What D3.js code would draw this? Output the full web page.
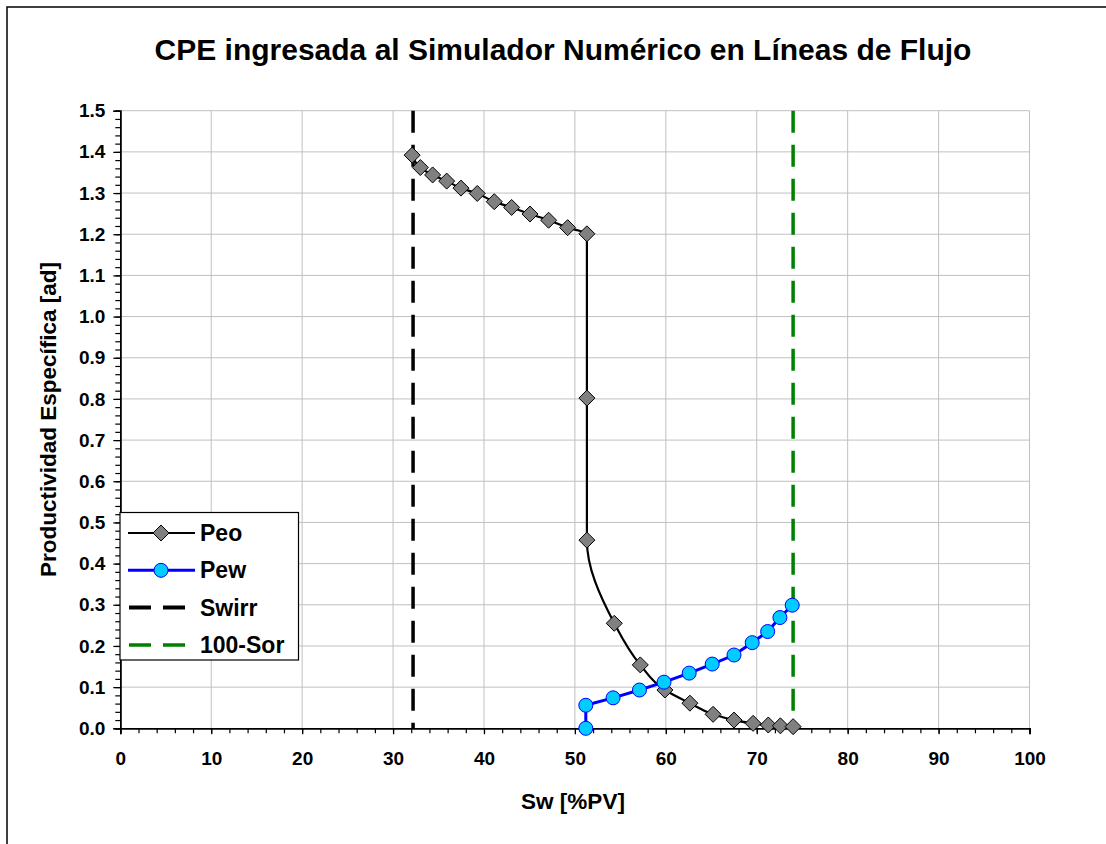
<!DOCTYPE html>
<html><head><meta charset="utf-8">
<script src="https://cdn.jsdelivr.net/npm/d3@7"></script>
<style>
html,body{margin:0;padding:0;background:#fff;}
svg{display:block;font-family:"Liberation Sans",Arial,sans-serif;}
</style></head>
<body>
<svg id="chart" width="1106" height="844"></svg>
<script>
// ---- data ----
const title = "CPE ingresada al Simulador Numérico en Líneas de Flujo";
const xLabel = "Sw [%PV]";
const yLabel = "Productividad Específica [ad]";
const xTicks = [0,10,20,30,40,50,60,70,80,90,100];
const yTicks = [0,0.1,0.2,0.3,0.4,0.5,0.6,0.7,0.8,0.9,1.0,1.1,1.2,1.3,1.4,1.5];

const peoSw = [32.1,33.0,34.35,35.9,37.47,39.26,41.13,43.04,45.06,47.11,49.2,51.32,51.32,51.32,54.33,57.19,59.9,62.65,65.2,67.5,69.6,71.27,72.6,74.0];
const peoVal = [1.392,1.362,1.344,1.329,1.312,1.299,1.279,1.265,1.249,1.234,1.216,1.201,0.802,0.457,0.255,0.154,0.093,0.061,0.034,0.020,0.012,0.008,0.006,0.004];

const pewSw = [51.2,51.2,54.2,57.1,59.8,62.57,65.1,67.5,69.5,71.2,72.55,73.9];
const pewVal = [0.0,0.056,0.074,0.093,0.112,0.134,0.156,0.178,0.208,0.235,0.269,0.299];

const swirr = 32.2;
const sor100 = 74.0;
const legendNames = ["Peo","Pew","Swirr","100-Sor"];

// ---- layout ----
const svg = d3.select("#chart");
const L = 120.3, R = 1029.5, T = 110.7, B = 728.3;
const x = d3.scaleLinear().domain([0,100]).range([L,R]);
const y = d3.scaleLinear().domain([0,1.5]).range([B,T]);

// outer border
svg.append("rect").attr("x",7).attr("y",7).attr("width",1110).attr("height",850)
  .attr("fill","#fff").attr("stroke","#000").attr("stroke-width",1.5);

// title
svg.append("text").attr("x",563).attr("y",60).attr("text-anchor","middle")
  .attr("font-size",30).attr("font-weight","bold").text(title);

// grid
const g = svg.append("g");
g.selectAll(".gx").data(xTicks.filter(d=>d>0)).join("line")
  .attr("x1",d=>x(d)).attr("x2",d=>x(d)).attr("y1",y(0)).attr("y2",y(1.5))
  .attr("stroke","#c0c0c0").attr("stroke-width",1);
g.selectAll(".gy").data(yTicks.filter(d=>d>0)).join("line")
  .attr("x1",x(0)).attr("x2",x(100)).attr("y1",d=>y(d)).attr("y2",d=>y(d))
  .attr("stroke","#c0c0c0").attr("stroke-width",1);

// axes
const xMinor = d3.range(0,101,2);
const yMinor = d3.range(0,76).map(i=>i*0.02);
const xAxis = d3.axisBottom(x).tickValues(xMinor).tickSize(5).tickFormat("");
const xAxisMajor = d3.axisBottom(x).tickValues(xTicks).tickSize(6).tickPadding(17).tickFormat(d3.format("d"));
const yAxis = d3.axisLeft(y).tickValues(yMinor).tickSize(5).tickFormat("");
const yAxisMajor = d3.axisLeft(y).tickValues(yTicks).tickSize(7).tickPadding(8).tickFormat(d3.format(".1f"));

function styleAxis(sel){
  sel.selectAll("path").attr("stroke","#000").attr("stroke-width",1.5);
  sel.selectAll("line").attr("stroke","#000").attr("stroke-width",1.2);
  sel.selectAll("text").attr("font-size",19).attr("font-weight","bold")
    .attr("font-family","'Liberation Sans',Arial,sans-serif").attr("fill","#000");
}
svg.append("g").attr("transform",`translate(0,${B})`).call(xAxis).call(styleAxis);
svg.append("g").attr("transform",`translate(0,${B})`).call(xAxisMajor).call(styleAxis);
svg.append("g").attr("transform",`translate(${L},0)`).call(yAxis).call(styleAxis);
svg.append("g").attr("transform",`translate(${L},0)`).call(yAxisMajor).call(styleAxis);

// axis labels
svg.append("text").attr("x",573).attr("y",809).attr("text-anchor","middle")
  .attr("font-size",22.5).attr("font-weight","bold").text(xLabel);
svg.append("text").attr("transform",`translate(56,${(T+B)/2}) rotate(-90)`)
  .attr("text-anchor","middle").attr("font-size",22.5).attr("font-weight","bold").text(yLabel);

// vertical dashed lines
svg.append("line").attr("x1",x(swirr)).attr("x2",x(swirr)).attr("y1",y(1.5)).attr("y2",y(0))
  .attr("stroke","#000").attr("stroke-width",3.5).attr("stroke-dasharray","22,12");
svg.append("line").attr("x1",x(sor100)).attr("x2",x(sor100)).attr("y1",y(1.5)).attr("y2",y(0))
  .attr("stroke","#008000").attr("stroke-width",3.5).attr("stroke-dasharray","22,12");

// Peo
const peo = peoSw.map((s,i)=>[s,peoVal[i]]);
const pew = pewSw.map((s,i)=>[s,pewVal[i]]);

svg.append("path").datum(peo)
  .attr("d",d3.line().x(d=>x(d[0])).y(d=>y(d[1])).curve(d3.curveMonotoneY))
  .attr("fill","none").attr("stroke","#000").attr("stroke-width",2.2);
const diamond = s => `M0,${-s}L${s},0L0,${s}L${-s},0Z`;
svg.selectAll(".peo").data(peo).join("path")
  .attr("transform",d=>`translate(${x(d[0])},${y(d[1])})`)
  .attr("d",diamond(8)).attr("fill","#808080").attr("stroke","#000").attr("stroke-width",1);

// Pew
svg.append("path").datum(pew).attr("d",d3.line().x(d=>x(d[0])).y(d=>y(d[1])))
  .attr("fill","none").attr("stroke","#0000ff").attr("stroke-width",3);
svg.selectAll(".pew").data(pew).join("circle")
  .attr("cx",d=>x(d[0])).attr("cy",d=>y(d[1])).attr("r",7)
  .attr("fill","#00ccff").attr("stroke","#0000ff").attr("stroke-width",1);

// legend
const lg = svg.append("g");
lg.append("rect").attr("x",120).attr("y",512.5).attr("width",178.5).attr("height",147.5)
  .attr("fill","#fff").attr("stroke","#000").attr("stroke-width",1.2);
const ly = d => 533 + d*37.3;
legendNames.forEach((name,i)=>{
  const yy = ly(i);
  if(i===0){
    lg.append("line").attr("x1",128).attr("x2",195).attr("y1",yy).attr("y2",yy).attr("stroke","#000").attr("stroke-width",2.2);
    lg.append("path").attr("transform",`translate(161,${yy})`).attr("d",diamond(8)).attr("fill","#808080").attr("stroke","#000");
  } else if(i===1){
    lg.append("line").attr("x1",128).attr("x2",195).attr("y1",yy).attr("y2",yy).attr("stroke","#0000ff").attr("stroke-width",3);
    lg.append("circle").attr("cx",161).attr("cy",yy).attr("r",7).attr("fill","#00ccff").attr("stroke","#0000ff");
  } else {
    lg.append("line").attr("x1",129).attr("x2",195).attr("y1",yy).attr("y2",yy)
      .attr("stroke", i===2?"#000":"#008000").attr("stroke-width", i===2?4:3.5).attr("stroke-dasharray","22,12");
  }
  lg.append("text").attr("x",200).attr("y",yy+8).attr("font-size",23).attr("font-weight","bold").text(name);
});
</script>
</body></html>
